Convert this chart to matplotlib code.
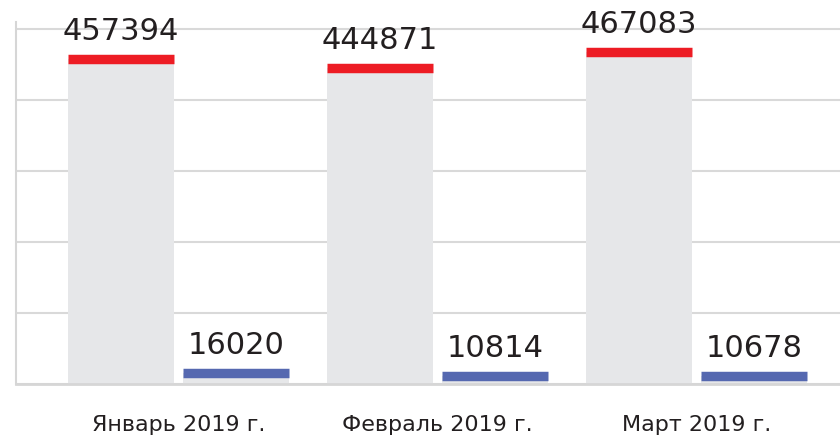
import matplotlib
matplotlib.use("Agg")
import matplotlib.pyplot as plt
import numpy as np

categories = ["Январь 2019 г.", "Февраль 2019 г.", "Март 2019 г."]
series_a = [457394, 444871, 467083]
series_b = [16020, 10814, 10678]
y_ticks = [0, 100000, 200000, 300000, 400000, 500000]

GREY = "#e6e7e9"
RED = "#ed1c24"
BLUE = "#5568b0"
TEXT = "#231f20"
GRID = "#d9d9d9"

fig = plt.figure(figsize=(8.4, 4.38), dpi=100)
ax = fig.add_axes([16/840, 54/438, 1 - 16/840, 362/438])

x = np.arange(len(categories))
w = 0.409
off = 0.222

ax.set_ylim(0, 510000)
ax.set_xlim(-0.627, 2.554)
ax.set_yticks(y_ticks)
ax.yaxis.grid(True, color=GRID, linewidth=1.5, zorder=0)
ax.set_axisbelow(True)

for xs, vals, cap in ((x - off, series_a, RED), (x + off, series_b, BLUE)):
    ax.bar(xs, vals, width=w, color=GREY, zorder=2)
    ax.hlines(vals, xs - w/2, xs + w/2, colors=cap, linewidth=6.8, zorder=3, capstyle="butt")
    for xi, v in zip(xs, vals):
        ax.annotate(f"{v}", (xi, v), xytext=(0, 13), textcoords="offset pixels",
                    ha="center", va="bottom", fontsize=22, color=TEXT, zorder=4)

for s in ("top", "right"):
    ax.spines[s].set_visible(False)
ax.spines["left"].set_color("#d6d6d6")
ax.spines["left"].set_linewidth(1.5)
ax.spines["bottom"].set_color("#d6d6d6")
ax.spines["bottom"].set_linewidth(2)
ax.set_yticklabels([])
ax.tick_params(axis="y", length=0)
ax.set_xticks(x)
ax.set_xticklabels(categories, fontsize=16, color=TEXT)
ax.tick_params(axis="x", length=0, pad=22)

fig.savefig("out.png", dpi=100)
